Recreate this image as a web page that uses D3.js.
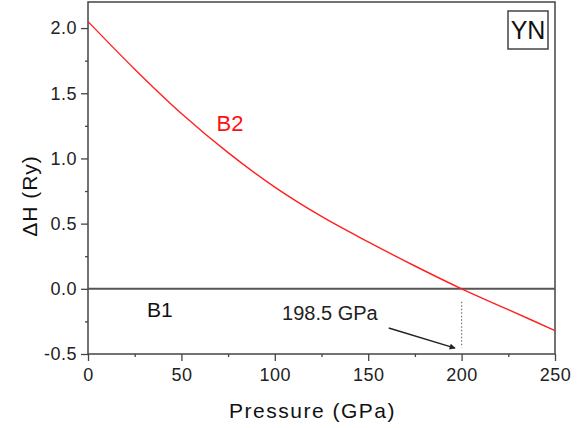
<!DOCTYPE html>
<html>
<head>
<meta charset="utf-8">
<script src="https://cdn.jsdelivr.net/npm/d3@7"></script>
<style>
  body { margin: 0; background: #fff; }
  svg { display: block; font-family: "Liberation Sans", Arial, sans-serif; }
</style>
</head>
<body>
<div id="chart"></div>
<script>
// values
var pressure = [0, 25, 50, 75, 100, 125, 150, 175, 200, 225, 250];
var dH_B2 = [2.05, 1.685, 1.345, 1.045, 0.78, 0.555, 0.36, 0.175, 0.0, -0.16, -0.32];
var pressureB1 = [0, 250];
var dH_B1 = [0, 0];

var xTicks = [0, 50, 100, 150, 200, 250];
var xMinor = [25, 75, 125, 175, 225];
var yTicks = [-0.5, 0, 0.5, 1, 1.5, 2];
var yTickLabels = ['-0.5', '0.0', '0.5', '1.0', '1.5', '2.0'];
var yMinor = [-0.25, 0.25, 0.75, 1.25, 1.75];

var transitionP = 198.5;   // label value
var markerP = 200;         // where the dotted marker sits
var arrowFrom = [161, -0.3];
var arrowTo = [196.5, -0.455];

var width = 583, height = 428;
var margin = {top: 2, right: 28, bottom: 74, left: 88};
var w = width - margin.left - margin.right;
var h = height - margin.top - margin.bottom;

var svg = d3.select('#chart').append('svg')
    .attr('width', width)
    .attr('height', height);

var defs = svg.append('defs');
defs.append('marker')
    .attr('id', 'arrow')
    .attr('viewBox', '0 0 10 10')
    .attr('refX', 9).attr('refY', 5)
    .attr('markerWidth', 9).attr('markerHeight', 6)
    .attr('markerUnits', 'userSpaceOnUse')
    .attr('orient', 'auto')
    .append('path')
    .attr('d', 'M0,0 L10,5 L0,10 Z')
    .attr('fill', '#222');

var g = svg.append('g')
    .attr('transform', 'translate(' + margin.left + ',' + margin.top + ')');

var x = d3.scaleLinear().domain([0, 250]).range([0, w]);
var y = d3.scaleLinear().domain([-0.5, 2.2]).range([h, 0]);

// minor ticks
g.append('g')
    .attr('class', 'minor')
    .attr('transform', 'translate(0,' + h + ')')
    .call(d3.axisBottom(x).tickValues(xMinor).tickSize(3).tickFormat(''));
g.append('g')
    .attr('class', 'minor')
    .call(d3.axisLeft(y).tickValues(yMinor).tickSize(3).tickFormat(''));

// major axes
var xAxis = g.append('g')
    .attr('transform', 'translate(0,' + h + ')')
    .call(d3.axisBottom(x).tickValues(xTicks).tickSize(7).tickPadding(7));
var yAxis = g.append('g')
    .call(d3.axisLeft(y).tickValues(yTicks).tickSize(7).tickPadding(4)
        .tickFormat(function (d, i) { return yTickLabels[i]; }));

g.selectAll('.domain').remove();
g.selectAll('.tick line').attr('stroke', '#444').attr('stroke-width', 1.3);
[xAxis, yAxis].forEach(function (a) {
    a.selectAll('text')
        .attr('fill', '#222')
        .style('font-size', '18px')
        .style('letter-spacing', '0.5px');
});

// frame
g.append('rect')
    .attr('x', 0).attr('y', 0)
    .attr('width', w).attr('height', h)
    .attr('fill', 'none')
    .attr('stroke', '#444')
    .attr('stroke-width', 1.5);

// B1 line
var line = d3.line()
    .x(function (d) { return x(d[0]); })
    .y(function (d) { return y(d[1]); });

g.append('path')
    .datum(d3.zip(pressureB1, dH_B1))
    .attr('d', line)
    .attr('fill', 'none')
    .attr('stroke', '#555')
    .attr('stroke-width', 2);

// B2 curve
g.append('path')
    .datum(d3.zip(pressure, dH_B2))
    .attr('d', line.curve(d3.curveMonotoneX))
    .attr('fill', 'none')
    .attr('stroke', '#ff2020')
    .attr('stroke-width', 1.4);

// transition marker
g.append('line')
    .attr('x1', x(markerP)).attr('x2', x(markerP))
    .attr('y1', y(-0.1)).attr('y2', y(-0.45))
    .attr('stroke', '#777')
    .attr('stroke-width', 1.2)
    .attr('stroke-dasharray', '1.5,2');

g.append('line')
    .attr('x1', x(arrowFrom[0])).attr('y1', y(arrowFrom[1]))
    .attr('x2', x(arrowTo[0])).attr('y2', y(arrowTo[1]))
    .attr('stroke', '#222')
    .attr('stroke-width', 1.5)
    .attr('marker-end', 'url(#arrow)');

g.append('text')
    .attr('x', x(129.5)).attr('y', y(-0.24))
    .attr('text-anchor', 'middle')
    .attr('fill', '#222')
    .style('font-size', '20px')
    .text(transitionP + ' GPa');

// series labels
g.append('text')
    .attr('x', x(38.5)).attr('y', y(-0.215))
    .attr('text-anchor', 'middle')
    .attr('fill', '#111')
    .style('font-size', '21px')
    .text('B1');

g.append('text')
    .attr('x', x(76)).attr('y', y(1.21))
    .attr('text-anchor', 'middle')
    .attr('fill', '#ff1010')
    .style('font-size', '22px')
    .text('B2');

// compound tag
var tag = g.append('g').attr('transform', 'translate(' + (w - 47) + ',9)');
tag.append('rect')
    .attr('width', 40).attr('height', 38)
    .attr('fill', '#fff')
    .attr('stroke', '#444')
    .attr('stroke-width', 1.5);
tag.append('text')
    .attr('x', 20).attr('y', 28)
    .attr('text-anchor', 'middle')
    .attr('fill', '#111')
    .style('font-size', '25px')
    .text('YN');

// axis titles
svg.append('text')
    .attr('x', margin.left + w / 2 - 9)
    .attr('y', 418)
    .attr('text-anchor', 'middle')
    .attr('fill', '#111')
    .style('font-size', '21px')
    .style('letter-spacing', '1.5px')
    .text('Pressure (GPa)');

svg.append('text')
    .attr('transform', 'translate(37,196) rotate(-90)')
    .attr('text-anchor', 'middle')
    .attr('fill', '#111')
    .style('font-size', '21px')
    .style('letter-spacing', '1px')
    .text('ΔH (Ry)');
</script>
</body>
</html>
